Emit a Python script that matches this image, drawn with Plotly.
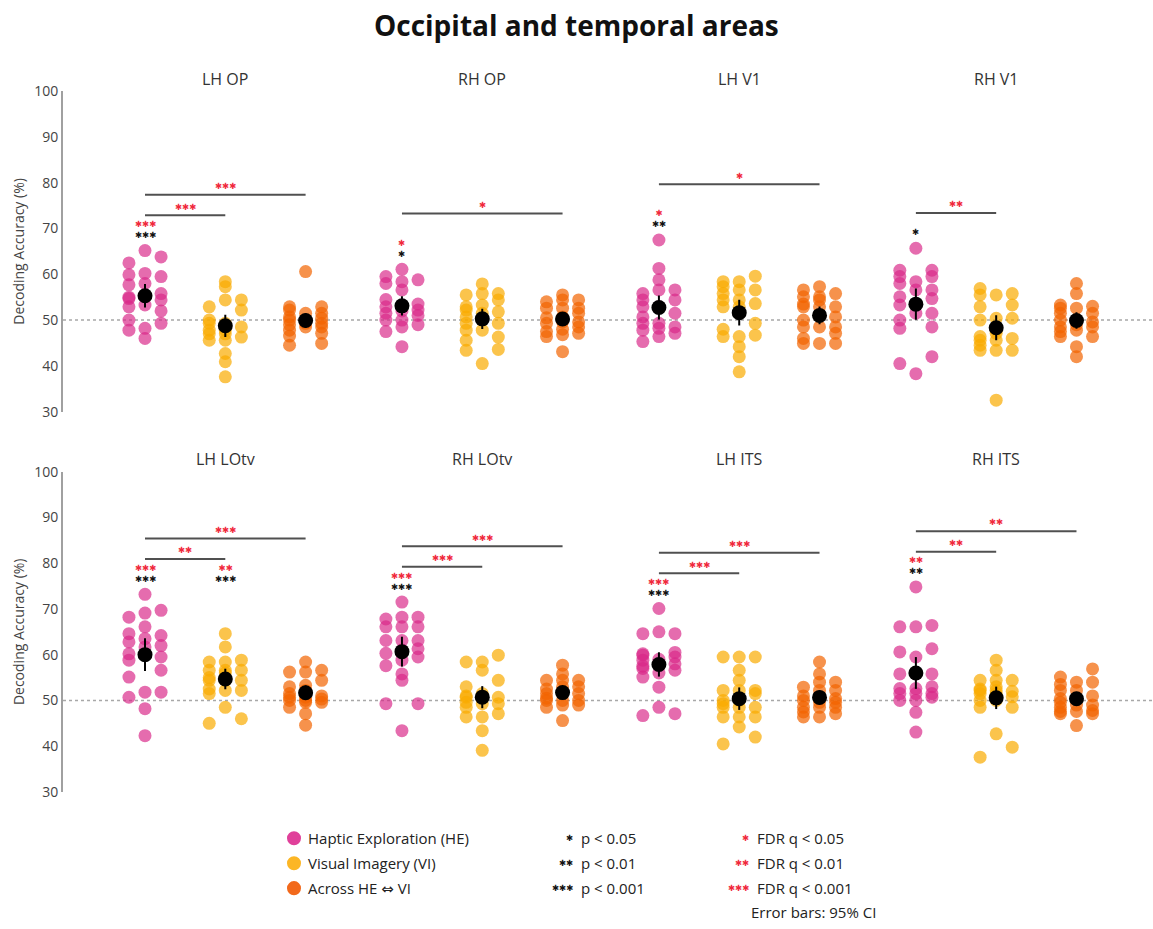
import numpy as np
import plotly.graph_objects as go

# ---------------------------------------------------------------------------
# Decoding accuracy (%) per participant, region and condition
# ---------------------------------------------------------------------------
regions = ["LH OP", "RH OP", "LH V1", "RH V1", "LH LOtv", "RH LOtv", "LH ITS", "RH ITS"]
conditions = ["Haptic Exploration (HE)", "Visual Imagery (VI)", "Across HE \u21d4 VI"]

lh_op_he = [65.2, 63.8, 62.5, 60.2, 59.9, 59.5, 58.0, 57.7, 55.8, 55.0, 54.7, 54.4, 53.3, 52.9, 50.0, 49.3, 48.2, 47.8, 46.0, 52.0]
lh_op_vi = [58.4, 57.3, 54.4, 54.4, 52.9, 52.2, 47.0, 47.0, 50.0, 49.3, 49.3, 48.5, 47.8, 47.8, 46.3, 45.6, 45.6, 42.7, 40.9, 37.6]
lh_op_x = [60.6, 52.9, 52.9, 52.2, 51.5, 51.5, 50.7, 50.0, 50.0, 49.3, 49.3, 48.5, 48.5, 47.8, 47.1, 46.5, 44.9, 44.5, 49.0, 50.4]

rh_op_he = [61.1, 59.5, 58.8, 58.4, 58.0, 56.6, 54.5, 53.0, 52.9, 52.2, 51.5, 50.0, 48.5, 51.0, 52.0, 47.5, 49.0, 50.0, 44.2, 53.5]
rh_op_vi = [57.9, 55.8, 55.8, 55.5, 54.4, 53.3, 52.9, 51.8, 51.5, 50.7, 49.3, 49.3, 47.8, 47.8, 46.3, 45.6, 43.6, 43.4, 40.5, 52.2]
rh_op_x = [55.5, 54.4, 54.4, 54.0, 52.6, 52.6, 52.6, 50.7, 49.6, 49.6, 49.3, 48.5, 47.1, 46.8, 46.4, 43.1, 51.5, 48.0, 50.5, 47.5]

lh_v1_he = [67.5, 61.3, 58.8, 56.6, 56.6, 55.8, 54.4, 54.4, 52.9, 52.9, 51.5, 50.7, 49.3, 49.3, 48.5, 48.2, 47.8, 47.1, 46.4, 45.3]
lh_v1_vi = [59.6, 58.4, 58.4, 57.3, 56.6, 56.6, 55.8, 54.4, 54.4, 53.6, 52.9, 52.9, 49.3, 48.0, 46.7, 46.4, 46.4, 44.2, 42.0, 38.7]
lh_v1_x = [57.3, 55.8, 55.1, 55.1, 54.4, 52.9, 52.9, 52.9, 50.7, 48.5, 48.5, 48.5, 47.1, 44.9, 44.9, 44.9, 56.6, 53.5, 50.0, 46.0]

rh_v1_he = [65.7, 60.9, 60.9, 59.5, 59.5, 58.4, 58.0, 56.6, 56.6, 55.1, 54.7, 53.3, 51.5, 51.5, 50.0, 48.5, 48.2, 42.0, 40.5, 38.3]
rh_v1_vi = [56.9, 55.5, 55.5, 55.8, 53.3, 52.9, 50.4, 50.4, 50.0, 47.1, 46.4, 46.0, 45.6, 45.6, 44.5, 43.4, 43.4, 43.4, 32.5, 47.8]
rh_v1_x = [58.0, 55.8, 53.3, 52.6, 52.6, 51.5, 51.5, 50.0, 49.6, 48.5, 48.5, 47.8, 46.4, 46.4, 44.2, 42.0, 50.0, 53.0, 49.0, 47.5]

lh_lotv_he = [73.2, 69.7, 69.1, 68.2, 66.1, 64.6, 64.2, 63.5, 62.8, 62.0, 61.7, 60.2, 59.5, 58.8, 56.6, 55.1, 51.8, 51.8, 50.7, 48.2, 42.3]
lh_lotv_vi = [64.6, 61.7, 58.8, 58.4, 58.4, 56.6, 56.6, 56.6, 54.4, 54.4, 54.4, 52.2, 52.2, 51.5, 55.0, 56.0, 52.5, 48.5, 46.0, 45.0]
lh_lotv_x = [58.4, 56.6, 56.2, 56.2, 54.4, 52.2, 51.5, 50.7, 50.7, 50.0, 50.0, 49.6, 49.6, 53.3, 48.5, 47.1, 44.6, 51.0, 50.3, 53.0]

rh_lotv_he = [71.5, 68.2, 68.2, 67.8, 66.1, 66.1, 66.1, 63.1, 63.1, 63.1, 61.3, 61.0, 60.3, 59.5, 58.8, 57.6, 55.8, 54.4, 49.3, 49.3, 43.4]
rh_lotv_vi = [59.9, 58.4, 58.4, 56.6, 54.4, 51.5, 50.7, 50.7, 50.7, 49.3, 49.3, 48.5, 47.1, 46.4, 46.4, 43.4, 39.1, 53.0, 51.0, 49.6]
rh_lotv_x = [57.7, 55.8, 54.4, 54.4, 54.4, 53.0, 53.0, 51.5, 51.5, 51.5, 50.0, 50.0, 50.0, 49.0, 49.0, 48.5, 45.6, 52.0, 50.5, 52.5]

lh_its_he = [70.1, 65.0, 64.6, 64.6, 60.5, 59.0, 57.5, 56.0, 58.0, 60.2, 59.9, 59.5, 58.8, 57.7, 57.0, 56.6, 55.1, 52.9, 48.5, 47.1, 46.7]
lh_its_vi = [59.5, 59.5, 59.5, 56.6, 54.4, 52.2, 52.2, 52.2, 51.5, 50.0, 50.0, 49.3, 48.5, 48.5, 48.5, 46.4, 46.4, 46.4, 44.2, 42.0, 40.5]
lh_its_x = [58.4, 55.8, 54.0, 54.0, 52.2, 52.2, 50.4, 50.4, 48.5, 48.5, 48.5, 47.5, 46.4, 46.4, 52.9, 51.0, 49.6, 49.6, 47.1, 50.0]

rh_its_he = [74.8, 66.4, 66.1, 66.1, 61.3, 60.6, 59.5, 55.8, 55.8, 55.8, 53.0, 52.6, 52.6, 51.5, 51.5, 51.5, 50.7, 50.0, 50.0, 47.4, 43.1]
rh_its_vi = [58.8, 56.6, 54.4, 54.4, 54.4, 52.2, 52.2, 51.5, 50.0, 50.0, 48.5, 48.5, 52.0, 52.5, 51.5, 50.8, 42.7, 39.8, 37.6, 53.0]
rh_its_x = [56.9, 55.1, 54.0, 54.0, 52.2, 52.2, 50.4, 50.4, 49.0, 49.0, 47.6, 47.6, 47.1, 47.1, 44.5, 53.5, 48.5, 51.0, 47.8, 49.6]

# one-sample tests against chance (number of stars: uncorrected p / FDR-corrected q)
sig_p = [[3, 0, 0], [1, 0, 0], [2, 0, 0], [1, 0, 0],
         [3, 3, 0], [3, 0, 0], [3, 0, 0], [2, 0, 0]]
sig_fdr = [[3, 0, 0], [1, 0, 0], [1, 0, 0], [0, 0, 0],
           [3, 2, 0], [3, 0, 0], [3, 0, 0], [2, 0, 0]]
# paired comparisons (FDR-corrected)
pair_he_vi = [3, 0, 0, 2, 2, 3, 3, 2]
pair_he_across = [3, 1, 1, 0, 3, 3, 3, 2]

p_labels = ["p < 0.05", "p < 0.01", "p < 0.001"]
q_labels = ["FDR q < 0.05", "FDR q < 0.01", "FDR q < 0.001"]

panel_data = [
    [lh_op_he, lh_op_vi, lh_op_x], [rh_op_he, rh_op_vi, rh_op_x],
    [lh_v1_he, lh_v1_vi, lh_v1_x], [rh_v1_he, rh_v1_vi, rh_v1_x],
    [lh_lotv_he, lh_lotv_vi, lh_lotv_x], [rh_lotv_he, rh_lotv_vi, rh_lotv_x],
    [lh_its_he, lh_its_vi, lh_its_x], [rh_its_he, rh_its_vi, rh_its_x],
]

# ---------------------------------------------------------------------------
# Styling
# ---------------------------------------------------------------------------
W, H = 1153, 929
FONT = "Open Sans, DejaVu Sans"
STAR = "\u2731"
STAR_FONT = dict(family="DejaVu Sans", size=8.5)
dot_colors = ["rgba(216,38,136,0.68)", "rgba(250,171,0,0.70)", "rgba(242,100,0,0.70)"]
legend_colors = ["#e0409a", "#fcb625", "#f2691b"]
STAR_RED = "#f0283c"
STAR_BLACK = "#111111"
GROUP_GAP = 3.2       # x distance between neighbouring region panels
COL_STEP = 0.2        # horizontal step between swarm columns
T_CRIT = 2.09         # two-sided 95% t critical value for ~20 participants

# pixel geometry of the page
AX_LEFT = 63
PX_PER_UNIT = 80.3
x_lo = (AX_LEFT - 145) / PX_PER_UNIT
x_hi = x_lo + (W - AX_LEFT) / PX_PER_UNIT
row_px = [(83.0, 410.0), (471.3, 798.3)]  # pixel y of 100% and 30% per row
TITLE_Y = 15
LEG_ROWS = [845.5, 871.0, 896.5]
NOTE_Y = 920.5
LEG_R = 7.2


def stars(n, color):
    return f"<span style='color:{color}'>{STAR * n}</span>"


def swarm_offsets(vals, bin_w=2.5):
    """Spread points sharing a value bin over three columns."""
    vals = np.asarray(vals, dtype=float)
    bins = np.floor(vals / bin_w).astype(int)
    offs = np.zeros(len(vals))
    for b in np.unique(bins):
        idx = np.where(bins == b)[0]
        idx = idx[np.argsort(vals[idx])]
        n = len(idx)
        if n == 1:
            pattern = [0]
        elif n == 2:
            pattern = [-1, 1]
        else:
            pattern = [(-1, 0, 1)[k % 3] for k in range(n)]
        for k, i in enumerate(idx):
            offs[i] = pattern[k] * COL_STEP
    return offs


fig = go.Figure()
annotations = []
shapes = []

for p, region in enumerate(regions):
    row = p // 4
    col = p % 4
    xa = "x" if row == 0 else "x2"
    ya = "y" if row == 0 else "y2"
    base = col * GROUP_GAP
    groups = panel_data[p]

    for g, vals in enumerate(groups):
        xc = base + g
        offs = swarm_offsets(vals)
        fig.add_trace(go.Scatter(
            x=xc + offs, y=vals, mode="markers", xaxis=xa, yaxis=ya,
            marker=dict(size=13, color=dot_colors[g], line=dict(width=0)),
            showlegend=False, hoverinfo="y", name=conditions[g],
        ))
    # group means with 95% confidence intervals
    means, cis = [], []
    for vals in groups:
        v = np.asarray(vals, dtype=float)
        means.append(v.mean())
        cis.append(T_CRIT * v.std(ddof=1) / np.sqrt(len(v)))
    fig.add_trace(go.Scatter(
        x=[base + g for g in range(3)], y=means, mode="markers", xaxis=xa, yaxis=ya,
        marker=dict(size=15, color="black"),
        error_y=dict(type="data", array=cis, visible=True, color="black", thickness=2, width=0),
        showlegend=False, hoverinfo="y",
    ))

    # significance labels, stacked above the highest point of the panel
    top = max(max(v) for v in groups)
    y_p, y_q = top + 3.5, top + 5.7
    y_b1, y_b2 = top + 7.7, top + 12.2
    for g in range(3):
        n_p, n_q = sig_p[p][g], sig_fdr[p][g]
        if n_p and n_q:
            annotations.append(dict(x=base + g, y=(y_p + y_q) / 2, xref=xa, yref=ya,
                                    text=stars(n_q, STAR_RED) + "<br>" + stars(n_p, STAR_BLACK),
                                    showarrow=False, font=STAR_FONT))
        elif n_p:
            annotations.append(dict(x=base + g, y=y_p, xref=xa, yref=ya,
                                    text=stars(n_p, STAR_BLACK), showarrow=False, font=STAR_FONT))
        elif n_q:
            annotations.append(dict(x=base + g, y=y_q, xref=xa, yref=ya,
                                    text=stars(n_q, STAR_RED), showarrow=False, font=STAR_FONT))
    for n_s, g2, yb in ((pair_he_vi[p], 1, y_b1), (pair_he_across[p], 2, y_b2)):
        if not n_s:
            continue
        shapes.append(dict(type="line", xref=xa, yref=ya, x0=base, x1=base + g2, y0=yb, y1=yb,
                           line=dict(color="#505050", width=2)))
        annotations.append(dict(x=base + g2 / 2, y=yb + 1.9, xref=xa, yref=ya,
                                text=stars(n_s, STAR_RED), showarrow=False, font=STAR_FONT))

    # region title
    title_px = row_px[row][0] - 13
    annotations.append(dict(x=base + 1, y=1 - title_px / H, xref=xa, yref="paper",
                            text=region, showarrow=False, yanchor="middle",
                            font=dict(family=FONT, size=16, color="#333")))

# chance level
for ya in ["y", "y2"]:
    shapes.append(dict(type="line", xref="paper", yref=ya, x0=AX_LEFT / W, x1=1, y0=50, y1=50,
                       line=dict(color="#a8a8a8", width=1.5, dash="dot"), layer="below"))

# legend
LEG_FONT = dict(family=FONT, size=15, color="#222")
for i, (name, c) in enumerate(zip(conditions, legend_colors)):
    yc = LEG_ROWS[i]
    shapes.append(dict(type="circle", xref="paper", yref="paper",
                       x0=(294 - 7) / W, x1=(294 + 7) / W,
                       y0=1 - (yc + LEG_R) / H, y1=1 - (yc - LEG_R) / H,
                       fillcolor=c, line=dict(width=0)))
    annotations.append(dict(x=306 / W, y=1 - yc / H, xref="paper", yref="paper", text=name,
                            xanchor="left", yanchor="middle", showarrow=False, font=LEG_FONT))
for i in range(3):
    yc = 1 - LEG_ROWS[i] / H
    annotations.append(dict(x=575 / W, y=yc, xref="paper", yref="paper",
                            text=stars(i + 1, STAR_BLACK), xanchor="right", yanchor="middle",
                            showarrow=False, font=STAR_FONT))
    annotations.append(dict(x=579 / W, y=yc, xref="paper", yref="paper", text=p_labels[i],
                            xanchor="left", yanchor="middle", showarrow=False, font=LEG_FONT))
    annotations.append(dict(x=751 / W, y=yc, xref="paper", yref="paper",
                            text=stars(i + 1, STAR_RED), xanchor="right", yanchor="middle",
                            showarrow=False, font=STAR_FONT))
    annotations.append(dict(x=755 / W, y=yc, xref="paper", yref="paper", text=q_labels[i],
                            xanchor="left", yanchor="middle", showarrow=False, font=LEG_FONT))
annotations.append(dict(x=749 / W, y=1 - NOTE_Y / H, xref="paper", yref="paper",
                        text="Error bars: 95% CI", xanchor="left", yanchor="middle",
                        showarrow=False, font=LEG_FONT))

# figure title
annotations.append(dict(x=0.5, y=1 - TITLE_Y / H, xref="paper", yref="paper",
                        text="<b>Occipital and temporal areas</b>", showarrow=False,
                        yanchor="middle", font=dict(family=FONT, size=28, color="#111")))

yaxis_style = dict(range=[30, 100], tickvals=list(range(30, 101, 10)), showgrid=False,
                   zeroline=False, showline=True, linecolor="#a0a0a0", linewidth=2,
                   ticks="", tickfont=dict(family=FONT, size=14, color="#444"),
                   title=dict(text="Decoding Accuracy (%)", standoff=6,
                              font=dict(family=FONT, size=14, color="#444")))
xaxis_style = dict(range=[x_lo, x_hi], domain=[AX_LEFT / W, 1], visible=False, fixedrange=True)

fig.update_layout(
    width=W, height=H, margin=dict(l=0, r=0, t=0, b=0),
    paper_bgcolor="white", plot_bgcolor="white",
    xaxis=dict(anchor="y", **xaxis_style),
    xaxis2=dict(anchor="y2", **xaxis_style),
    yaxis=dict(anchor="x", domain=[1 - row_px[0][1] / H, 1 - row_px[0][0] / H], **yaxis_style),
    yaxis2=dict(anchor="x2", domain=[1 - row_px[1][1] / H, 1 - row_px[1][0] / H], **yaxis_style),
    annotations=annotations, shapes=shapes, showlegend=False,
)

fig.write_html("out.html")
